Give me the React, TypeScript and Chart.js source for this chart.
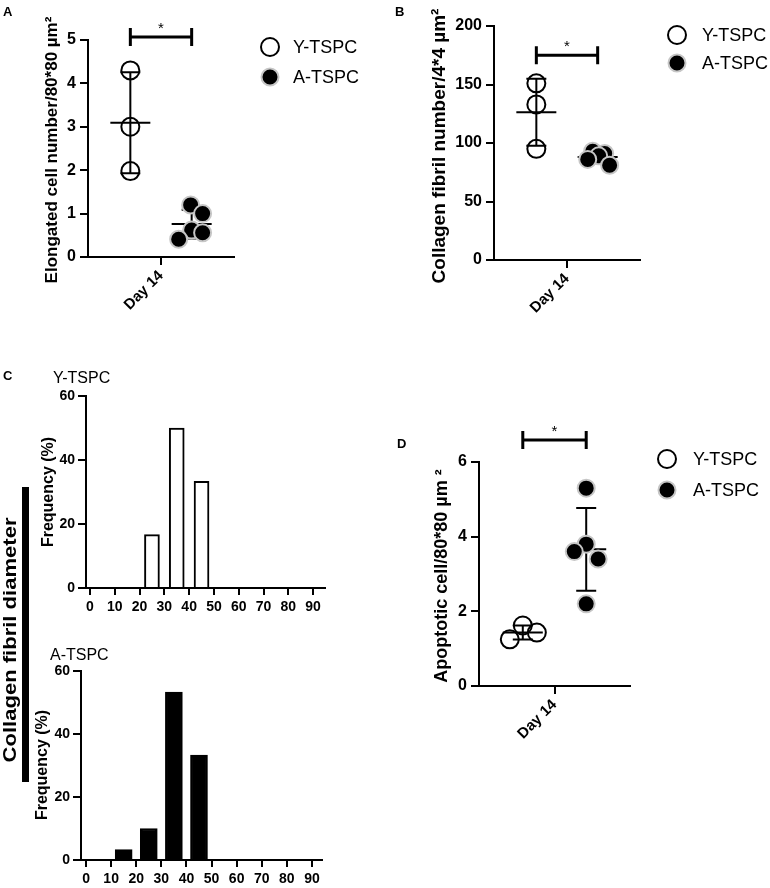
import React, { useEffect, useRef } from "react";
import { Chart, registerables } from "chart.js";
Chart.register(...registerables);

const FONT = "'Liberation Sans', Arial, Helvetica, sans-serif";

// ---------------- data ----------------
const groupNames = ["Y-TSPC", "A-TSPC"];
const timeLabel = "Day 14";

// Panel A: elongated cell number / 80*80 µm²
const elongYoung = [4.3, 3.0, 1.98];
const elongAged = [1.2, 1.0, 0.62, 0.56, 0.41];
const elongYoungJitter = [0, 0, 0];
const elongAgedJitter = [-0.007, 0.075, 0, 0.075, -0.089];

// Panel B: collagen fibril number / 4*4 µm²
const fibrilYoung = [151, 133, 95];
const fibrilAged = [93, 91, 89, 86, 81];
const fibrilYoungJitter = [0, 0, 0];
const fibrilAgedJitter = [-0.034, 0.048, 0.007, -0.068, 0.082];

// Panel D: apoptotic cell / 80*80 µm²
const apopYoung = [1.25, 1.62, 1.43];
const apopAged = [5.3, 3.8, 3.6, 3.4, 2.2];
const apopYoungJitter = [-0.086, 0, 0.093];
const apopAgedJitter = [0, 0, -0.079, 0.079, 0];

// Panel C: collagen fibril diameter histograms (bin centres, frequency %)
const diameterBins = [5, 15, 25, 35, 45, 55, 65, 75, 85];
const freqYoung = [0, 0, 16.7, 50, 33.3, 0, 0, 0, 0];
const freqAged = [0, 3.3, 10, 53.3, 33.3, 0, 0, 0, 0];
const diameterTicks = [0, 10, 20, 30, 40, 50, 60, 70, 80, 90];
const freqTicks = [0, 20, 40, 60];

// ---------------- helpers ----------------
type Rect = { x: number; y: number; w: number; h: number };
type Area = { l: number; t: number; r: number; b: number };

const mean = (a: number[]) => a.reduce((s, v) => s + v, 0) / a.length;
const sd = (a: number[]) => {
  const m = mean(a);
  return Math.sqrt(a.reduce((s, v) => s + (v - m) ** 2, 0) / (a.length - 1));
};

function fixedLayout(canvas: Rect, area: Area) {
  return {
    padding: { left: 0, top: area.t - canvas.y, right: canvas.x + canvas.w - area.r, bottom: 0 },
    yWidth: area.l - canvas.x,
    xHeight: canvas.y + canvas.h - area.b,
  };
}

function rotatedText(ctx: CanvasRenderingContext2D, text: string, x: number, y: number, font: string) {
  ctx.save();
  ctx.translate(x, y);
  ctx.rotate(-Math.PI / 2);
  ctx.font = font;
  ctx.fillStyle = "#000";
  ctx.textAlign = "center";
  ctx.textBaseline = "middle";
  ctx.fillText(text, 0, 0);
  ctx.restore();
}

function plainText(ctx: CanvasRenderingContext2D, text: string, x: number, y: number, font: string, align: CanvasTextAlign = "left", baseline: CanvasTextBaseline = "middle") {
  ctx.save();
  ctx.font = font;
  ctx.fillStyle = "#000";
  ctx.textAlign = align;
  ctx.textBaseline = baseline;
  ctx.fillText(text, x, y);
  ctx.restore();
}

const axisGrid = (len: number) => ({
  display: true,
  drawOnChartArea: false,
  drawTicks: true,
  tickLength: len,
  color: "#000",
  lineWidth: 2,
  offset: false,
});
const axisBorder = { display: true, color: "#000", width: 2 };

// ---------------- dot plot panels ----------------
interface DotPanel {
  canvas: Rect;
  area: Area;
  young: number[];
  aged: number[];
  youngJitter: number[];
  agedJitter: number[];
  yMax: number;
  yStep: number;
  yTitle: string;
  titlePos: [number, number];
  titleSize: number;
  bracketValue: number;
  legendX: number;
  legendY: number[];
  legendTextX: number;
  letter: string;
  letterPos: [number, number];
}

const groupCenters = [0.29, 0.71];

const youngStyle = { pointRadius: 9, borderWidth: 2, borderColor: "#000", backgroundColor: "rgba(255,255,255,0)" };
const agedStyle = { pointRadius: 8.5, borderWidth: 2, borderColor: "#c6c6c6", backgroundColor: "#000" };

function makeDotChart(el: HTMLCanvasElement, p: DotPanel) {
  const lay = fixedLayout(p.canvas, p.area);
  const ox = p.canvas.x;
  const oy = p.canvas.y;
  const groups = [p.young, p.aged];
  const datasets = [
    {
      label: groupNames[0],
      data: p.young.map((v, i) => ({ x: groupCenters[0] + p.youngJitter[i], y: v })),
      ...youngStyle,
      pointHoverRadius: youngStyle.pointRadius,
    },
    {
      label: groupNames[1],
      data: p.aged.map((v, i) => ({ x: groupCenters[1] + p.agedJitter[i], y: v })),
      ...agedStyle,
      pointHoverRadius: agedStyle.pointRadius,
    },
  ];

  const decor = {
    id: "decor",
    beforeDatasetsDraw(chart: any) {
      const { ctx } = chart;
      const xs = chart.scales.x;
      const ys = chart.scales.y;
      groups.forEach((vals, gi) => {
        const m = mean(vals);
        const s = sd(vals);
        const cx = xs.getPixelForValue(groupCenters[gi]);
        const yM = ys.getPixelForValue(m);
        const yT = ys.getPixelForValue(m + s);
        const yB = ys.getPixelForValue(m - s);
        ctx.save();
        ctx.strokeStyle = "#000";
        ctx.lineWidth = 2;
        ctx.beginPath();
        ctx.moveTo(cx - 20, yM);
        ctx.lineTo(cx + 20, yM);
        ctx.moveTo(cx, yT);
        ctx.lineTo(cx, yB);
        ctx.moveTo(cx - 10, yT);
        ctx.lineTo(cx + 10, yT);
        ctx.moveTo(cx - 10, yB);
        ctx.lineTo(cx + 10, yB);
        ctx.stroke();
        ctx.restore();
      });
    },
    afterDraw(chart: any) {
      const { ctx } = chart;
      const xs = chart.scales.x;
      const ys = chart.scales.y;
      // significance bracket
      const x1 = xs.getPixelForValue(groupCenters[0]);
      const x2 = xs.getPixelForValue(groupCenters[1]);
      const by = ys.getPixelForValue(p.bracketValue);
      ctx.save();
      ctx.strokeStyle = "#000";
      ctx.lineWidth = 3;
      ctx.beginPath();
      ctx.moveTo(x1, by);
      ctx.lineTo(x2, by);
      ctx.moveTo(x1, by - 9);
      ctx.lineTo(x1, by + 9);
      ctx.moveTo(x2, by - 9);
      ctx.lineTo(x2, by + 9);
      ctx.stroke();
      ctx.restore();
      plainText(ctx, "*", (x1 + x2) / 2, by - 4, `15px ${FONT}`, "center", "alphabetic");
      // legend
      [youngStyle, agedStyle].forEach((st, i) => {
        const cx = p.legendX - ox;
        const cy = p.legendY[i] - oy;
        ctx.save();
        ctx.beginPath();
        ctx.arc(cx, cy, st.pointRadius, 0, Math.PI * 2);
        ctx.fillStyle = st.backgroundColor;
        ctx.fill();
        ctx.lineWidth = st.borderWidth;
        ctx.strokeStyle = st.borderColor;
        ctx.stroke();
        ctx.restore();
        plainText(ctx, groupNames[i], p.legendTextX - ox, cy + 1, `18px ${FONT}`);
      });
      // y title
      rotatedText(ctx, p.yTitle, p.titlePos[0] - ox, p.titlePos[1] - oy, `bold ${p.titleSize}px ${FONT}`);
      // panel letter
      plainText(ctx, p.letter, p.letterPos[0] - ox, p.letterPos[1] - oy, `bold 13px ${FONT}`);
    },
  };

  return new Chart(el, {
    type: "scatter",
    data: { datasets } as any,
    options: {
      animation: false,
      responsive: false,
      maintainAspectRatio: false,
      events: [],
      layout: { padding: lay.padding },
      plugins: { legend: { display: false }, tooltip: { enabled: false } },
      scales: {
        x: {
          type: "linear",
          min: 0,
          max: 1,
          afterBuildTicks: (s: any) => {
            s.ticks = [{ value: 0.5 }];
          },
          afterFit: (s: any) => {
            s.height = lay.xHeight;
          },
          ticks: {
            callback: () => timeLabel,
            minRotation: 45,
            maxRotation: 45,
            autoSkip: false,
            color: "#000",
            padding: 2,
            font: { family: FONT, size: 15, weight: "bold" },
          },
          grid: axisGrid(8),
          border: axisBorder,
        },
        y: {
          type: "linear",
          min: 0,
          max: p.yMax,
          afterFit: (s: any) => {
            s.width = lay.yWidth;
          },
          ticks: {
            stepSize: p.yStep,
            color: "#000",
            padding: 4,
            font: { family: FONT, size: 16, weight: "bold" },
          },
          grid: axisGrid(8),
          border: axisBorder,
        },
      },
    } as any,
    plugins: [decor],
  });
}

// ---------------- histogram panels ----------------
interface HistPanel {
  canvas: Rect;
  area: Area;
  values: number[];
  fill: string;
  xMin: number;
  xMax: number;
  barThickness: number;
  seriesLabel: string;
  seriesPos: [number, number];
  titlePos: [number, number];
  letter?: string;
  letterPos?: [number, number];
}

function makeHistChart(el: HTMLCanvasElement, h: HistPanel) {
  const lay = fixedLayout(h.canvas, h.area);
  const ox = h.canvas.x;
  const oy = h.canvas.y;
  const data = diameterBins
    .map((b, i) => ({ x: b, y: h.values[i] }))
    .filter((d) => d.y > 0);

  const decor = {
    id: "histDecor",
    afterDraw(chart: any) {
      const { ctx } = chart;
      plainText(ctx, h.seriesLabel, h.seriesPos[0] - ox, h.seriesPos[1] - oy, `16px ${FONT}`);
      rotatedText(ctx, "Frequency (%)", h.titlePos[0] - ox, h.titlePos[1] - oy, `bold 16px ${FONT}`);
      if (h.letter && h.letterPos) {
        plainText(ctx, h.letter, h.letterPos[0] - ox, h.letterPos[1] - oy, `bold 13px ${FONT}`);
      }
    },
  };

  return new Chart(el, {
    type: "bar",
    data: {
      datasets: [
        {
          data,
          backgroundColor: h.fill,
          borderColor: "#000",
          borderWidth: 2,
          borderSkipped: "start",
          barThickness: h.barThickness,
        },
      ],
    } as any,
    options: {
      animation: false,
      responsive: false,
      maintainAspectRatio: false,
      events: [],
      layout: { padding: lay.padding },
      plugins: { legend: { display: false }, tooltip: { enabled: false } },
      scales: {
        x: {
          type: "linear",
          min: h.xMin,
          max: h.xMax,
          offset: false,
          afterBuildTicks: (s: any) => {
            s.ticks = diameterTicks.map((v) => ({ value: v }));
          },
          afterFit: (s: any) => {
            s.height = lay.xHeight;
          },
          ticks: {
            autoSkip: false,
            maxRotation: 0,
            minRotation: 0,
            color: "#000",
            padding: 4,
            font: { family: FONT, size: 14, weight: "bold" },
          },
          grid: axisGrid(7),
          border: axisBorder,
        },
        y: {
          type: "linear",
          min: 0,
          max: freqTicks[freqTicks.length - 1],
          afterBuildTicks: (s: any) => {
            s.ticks = freqTicks.map((v) => ({ value: v }));
          },
          afterFit: (s: any) => {
            s.width = lay.yWidth;
          },
          ticks: {
            color: "#000",
            padding: 3,
            font: { family: FONT, size: 14, weight: "bold" },
          },
          grid: axisGrid(8),
          border: axisBorder,
        },
      },
    } as any,
    plugins: [decor],
  });
}

// ---------------- panel layouts ----------------
const panelA: DotPanel = {
  canvas: { x: 0, y: 0, w: 380, h: 330 },
  area: { l: 88, t: 40, r: 234, b: 257 },
  young: elongYoung,
  aged: elongAged,
  youngJitter: elongYoungJitter,
  agedJitter: elongAgedJitter,
  yMax: 5,
  yStep: 1,
  yTitle: "Elongated cell number/80*80 µm²",
  titlePos: [52, 150],
  titleSize: 17,
  bracketValue: 5.07,
  legendX: 270,
  legendY: [47, 77],
  legendTextX: 293,
  letter: "A",
  letterPos: [3, 12.5],
};

const panelB: DotPanel = {
  canvas: { x: 380, y: 0, w: 390, h: 330 },
  area: { l: 494, t: 26, r: 640, b: 260 },
  young: fibrilYoung,
  aged: fibrilAged,
  youngJitter: fibrilYoungJitter,
  agedJitter: fibrilAgedJitter,
  yMax: 200,
  yStep: 50,
  yTitle: "Collagen fibril number/4*4 µm²",
  titlePos: [440, 146],
  titleSize: 19,
  bracketValue: 175,
  legendX: 677,
  legendY: [35, 63],
  legendTextX: 702,
  letter: "B",
  letterPos: [395, 12.5],
};

const panelD: DotPanel = {
  canvas: { x: 380, y: 410, w: 390, h: 350 },
  area: { l: 479, t: 462, r: 630, b: 686 },
  young: apopYoung,
  aged: apopAged,
  youngJitter: apopYoungJitter,
  agedJitter: apopAgedJitter,
  yMax: 6,
  yStep: 2,
  yTitle: "Apoptotic cell/80*80 µm ²",
  titlePos: [442, 576],
  titleSize: 18,
  bracketValue: 6.59,
  legendX: 667,
  legendY: [459, 490],
  legendTextX: 693,
  letter: "D",
  letterPos: [397, 444],
};

const histTop: HistPanel = {
  canvas: { x: 0, y: 330, w: 380, h: 290 },
  area: { l: 86, t: 396, r: 325, b: 588 },
  values: freqYoung,
  fill: "#ffffff",
  xMin: -1.6,
  xMax: 94.8,
  barThickness: 15,
  seriesLabel: groupNames[0],
  seriesPos: [53, 379],
  titlePos: [48.5, 492],
  letter: "C",
  letterPos: [3, 376],
};

const histBottom: HistPanel = {
  canvas: { x: 0, y: 620, w: 380, h: 268 },
  area: { l: 81, t: 671, r: 322, b: 860 },
  values: freqAged,
  fill: "#000000",
  xMin: -2,
  xMax: 94,
  barThickness: 17,
  seriesLabel: groupNames[1],
  seriesPos: [50, 656],
  titlePos: [43, 765],
};

function Canvas({ r, cref }: { r: Rect; cref: React.RefObject<HTMLCanvasElement | null> }) {
  return (
    <canvas
      ref={cref}
      width={r.w}
      height={r.h}
      style={{ position: "absolute", left: r.x, top: r.y, width: r.w, height: r.h }}
    />
  );
}

export default function App() {
  const refA = useRef<HTMLCanvasElement>(null);
  const refB = useRef<HTMLCanvasElement>(null);
  const refC1 = useRef<HTMLCanvasElement>(null);
  const refC2 = useRef<HTMLCanvasElement>(null);
  const refD = useRef<HTMLCanvasElement>(null);

  useEffect(() => {
    const charts = [
      makeDotChart(refA.current!, panelA),
      makeDotChart(refB.current!, panelB),
      makeHistChart(refC1.current!, histTop),
      makeHistChart(refC2.current!, histBottom),
      makeDotChart(refD.current!, panelD),
    ];
    return () => charts.forEach((c) => c.destroy());
  }, []);

  return (
    <div style={{ position: "fixed", left: 0, top: 0, width: 770, height: 888, background: "#fff", overflow: "hidden" }}>
      <Canvas r={panelA.canvas} cref={refA} />
      <Canvas r={panelB.canvas} cref={refB} />
      <Canvas r={histTop.canvas} cref={refC1} />
      <Canvas r={histBottom.canvas} cref={refC2} />
      <Canvas r={panelD.canvas} cref={refD} />
      <div
        style={{
          position: "absolute",
          left: 22,
          top: 487,
          width: 7,
          height: 295,
          background: "#000",
        }}
      />
      <div
        style={{
          position: "absolute",
          left: 9,
          top: 640,
          transform: "translate(-50%, -50%) rotate(-90deg) scaleX(1.16)",
          font: `bold 19px ${FONT}`,
          lineHeight: 1,
          whiteSpace: "nowrap",
          color: "#000",
        }}
      >
        Collagen fibril diameter
      </div>
    </div>
  );
}
